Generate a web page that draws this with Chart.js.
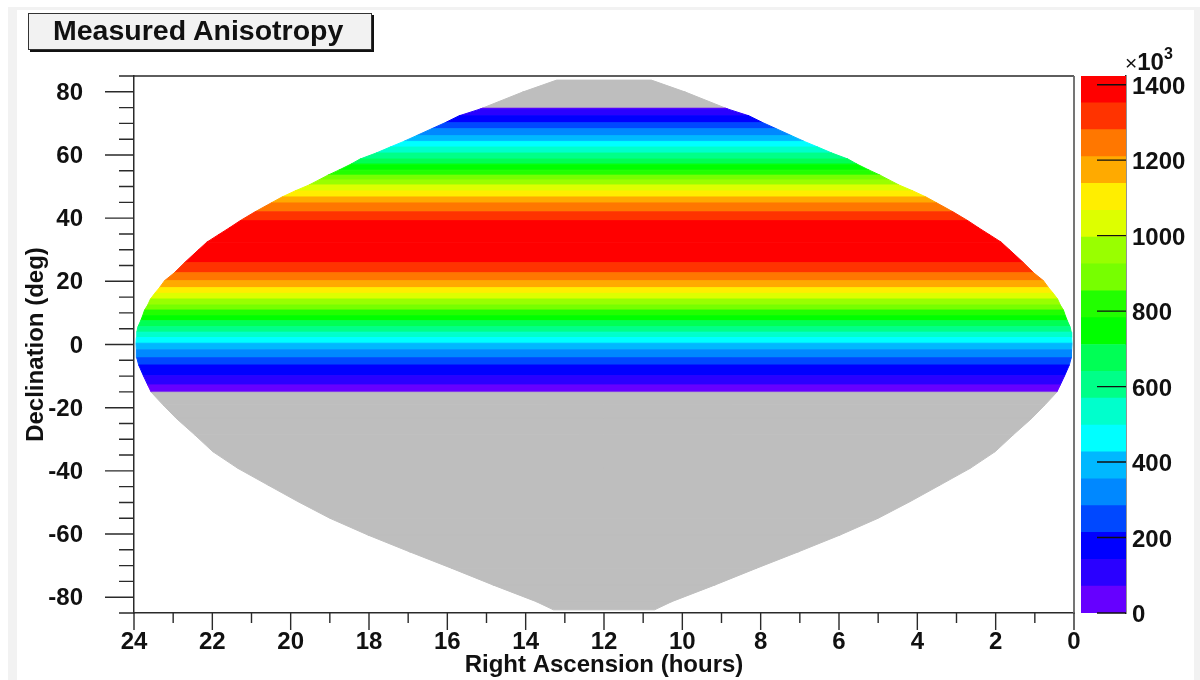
<!DOCTYPE html>
<html>
<head>
<meta charset="utf-8">
<title>Measured Anisotropy</title>
<script src="https://cdn.jsdelivr.net/npm/chart.js@4"></script>
<style>
  html, body { margin: 0; padding: 0; background: #fff; overflow: hidden; }
  #page { position: absolute; left: 8px; top: 7px; width: 1192px; height: 673px; background: #f2f2f2; }
  #inner { position: absolute; left: 17px; top: 10px; width: 1177px; height: 670px; background: #fff; }
  canvas { position: absolute; left: 0; top: 0; }
  #title {
    position: absolute; left: 28px; top: 13px; width: 342px; height: 35px;
    background: #f2f2f2; border: 1px solid #333; box-shadow: 2px 2px 0 #111;
    font: bold 28.5px "Liberation Sans", sans-serif; color: #111; line-height: 33px;
    text-indent: 24px; white-space: nowrap;
  }
  #exp { position: absolute; left: 1125px; top: 48px; font: bold 24px "Liberation Sans", sans-serif; color: #111; white-space: nowrap; }
  #exp .x { font-weight: normal; font-size: 21px; }
  #exp sup { font-size: 16px; position: relative; top: -2px; vertical-align: top; line-height: 1; }
</style>
</head>
<body>
<div id="page"></div>
<div id="inner"></div>
<canvas id="skyChart" width="1200" height="680"></canvas>
<canvas id="barChart" width="1200" height="680"></canvas>
<div id="title">Measured Anisotropy</div>
<div id="exp"><span class="x">×</span>10<sup>3</sup></div>

<script>
// palette levels, low to high (thousands of counts)
const levelColors = [
  '#6600ff', '#2a00ff', '#0000ff', '#0048ff', '#0088ff', '#00b8ff', '#00ffff', '#00ffcc', '#00ff88', '#00ff55',
  '#00ff00', '#22ff00', '#77ff00', '#99ff00', '#ddff00', '#ffee00', '#ffaa00', '#ff7700', '#ff3300', '#ff0000'
];
const noDataColor = '#bebebe';
const levelStep = 71.15;
const zTicks = [0, 200, 400, 600, 800, 1000, 1200, 1400];

// sky outline: declination (deg) and half width in RA (hours)
const decEdges = [
  -84.0, -81.4, -76.1, -70.8, -65.6, -60.3, -55.0, -49.7, -44.5, -39.2, -33.9, -28.6, -23.4, -19.1, -15.1,
  -12.8, -9.9, -6.5, -4.2, -1.7, 0.4, 2.2, 3.9, 5.6, 7.5, 9.1, 10.9, 12.5, 14.4, 16.2, 18.0, 20.2, 22.7, 25.9,
  29.9, 32.4, 34.7, 36.9, 39.2, 42.0, 44.8, 46.7, 48.6, 50.5, 52.1, 53.6, 55.2, 57.1, 58.7, 60.6, 62.5, 64.3, 66.1, 68.3,
  70.2, 72.4, 74.5, 74.8, 79.9, 83.7
];
const halfWidth = [
  1.29, 1.73, 2.84, 3.90, 4.97, 6.03, 7.00, 7.82, 8.58, 9.35, 9.99, 10.45, 10.92, 11.26, 11.56,
  11.65, 11.76, 11.88, 11.93, 11.94, 11.95, 11.94, 11.93, 11.90, 11.83, 11.78, 11.73, 11.65, 11.58, 11.47, 11.35, 11.22, 10.97, 10.71,
  10.36, 10.14, 9.85, 9.57, 9.29, 8.91, 8.50, 8.22, 7.89, 7.53, 7.28, 7.05, 6.77, 6.46, 6.23, 5.82, 5.46, 5.11, 4.79, 4.40,
  4.06, 3.70, 3.17, 3.11, 2.08, 1.21
];
// level of the strip between two neighbouring edges, -1 = no data
const stripLevel = [
  -1, -1, -1, -1, -1, -1, -1, -1, -1, -1, -1, -1, -1, -1,
  0, 1, 2, 3, 4, 5, 6, 7, 8, 9, 10, 11, 12, 13, 14, 15, 16, 17, 18, 19,
  19, 19, 19, 19, 18, 17, 16, 15, 14, 13, 12, 11, 10, 9, 8, 7, 6, 5, 4, 3, 2, 1, 0,
  -1, -1
];

const centerRA = 12;
const labelFont = { family: '"Liberation Sans", sans-serif', weight: 'bold', size: 24 };
const lineColor = '#2a2a2a';

const skyDatasets = stripLevel.map((level, i) => {
  const color = level < 0 ? noDataColor : levelColors[level];
  return {
    data: [
      { x: centerRA - halfWidth[i], y: decEdges[i] },
      { x: centerRA + halfWidth[i], y: decEdges[i] },
      { x: centerRA + halfWidth[i + 1], y: decEdges[i + 1] },
      { x: centerRA - halfWidth[i + 1], y: decEdges[i + 1] },
      { x: centerRA - halfWidth[i], y: decEdges[i] }
    ],
    showLine: true,
    fill: 'shape',
    backgroundColor: color,
    borderColor: color,
    borderWidth: 1,
    tension: 0,
    pointRadius: 0
  };
});

// nudge the y labels down a little, ROOT sets them lower than middle
function labelNudge(dy) {
  return {
    id: 'labelNudge',
    beforeDraw(chart) {
      chart.scales.y.getLabelItems().forEach(item => { item.options.translation[1] += dy; });
    }
  };
}

// ROOT style ticks, chart.js can't do two tick lengths on one axis
const skyTicks = {
  id: 'skyTicks',
  afterDraw(chart) {
    const { ctx, chartArea: a, scales } = chart;
    ctx.save();
    ctx.strokeStyle = lineColor;
    ctx.lineWidth = 1.4;
    ctx.beginPath();
    scales.y.ticks.forEach(t => {
      const p = scales.y.getPixelForValue(t.value);
      ctx.moveTo(a.left - (t.value % 20 === 0 ? 29 : 15), p);
      ctx.lineTo(a.left, p);
    });
    scales.x.ticks.forEach(t => {
      const p = scales.x.getPixelForValue(t.value);
      ctx.moveTo(p, a.bottom);
      ctx.lineTo(p, a.bottom + (t.value % 2 === 0 ? 17 : 10));
    });
    ctx.moveTo(a.left, a.top);
    ctx.lineTo(a.right, a.top);
    ctx.stroke();
    ctx.strokeStyle = '#666';
    ctx.lineWidth = 1.8;
    ctx.beginPath();
    ctx.moveTo(a.right, a.top);
    ctx.lineTo(a.right, a.bottom);
    ctx.stroke();
    ctx.restore();
  }
};

new Chart(document.getElementById('skyChart'), {
  type: 'scatter',
  data: { datasets: skyDatasets },
  plugins: [skyTicks, labelNudge(1.5)],
  options: {
    responsive: false,
    animation: false,
    layout: { padding: { top: 76, right: 126 } },
    plugins: { legend: { display: false }, tooltip: { enabled: false } },
    scales: {
      x: {
        type: 'linear', reverse: true, min: 0, max: 24,
        afterFit: s => { s.height = 67; },
        grid: { display: false, drawTicks: false },
        border: { display: true, color: lineColor, width: 1.5 },
        ticks: {
          stepSize: 1, autoSkip: false, maxRotation: 0, padding: 15,
          color: '#111', font: labelFont,
          callback: v => (v % 2 === 0 ? String(v) : '')
        },
        title: {
          display: true, text: 'Right Ascension (hours)', color: '#111',
          font: labelFont, padding: { top: 0, bottom: 0 }
        }
      },
      y: {
        type: 'linear', min: -85, max: 85,
        afterFit: s => { s.width = 134; },
        grid: { display: false, drawTicks: false },
        border: { display: true, color: lineColor, width: 1.5 },
        ticks: {
          stepSize: 5, autoSkip: false, padding: 51,
          color: '#111', font: labelFont,
          callback: v => (v % 20 === 0 ? String(v) : '')
        },
        title: {
          display: true, text: 'Declination (deg)', color: '#111',
          font: labelFont, padding: { top: 22, bottom: 0 }
        }
      }
    }
  }
});

const barTicks = {
  id: 'barTicks',
  afterDraw(chart) {
    const { ctx, chartArea: a, scales } = chart;
    ctx.save();
    ctx.strokeStyle = '#111';
    ctx.lineWidth = 1.4;
    ctx.beginPath();
    scales.y.ticks.forEach(t => {
      const p = scales.y.getPixelForValue(t.value);
      ctx.moveTo(a.right - 29, p);
      ctx.lineTo(a.right, p);
    });
    ctx.stroke();
    ctx.restore();
  }
};

new Chart(document.getElementById('barChart'), {
  type: 'bar',
  data: {
    labels: ['z'],
    datasets: levelColors.map(c => ({
      data: [levelStep],
      backgroundColor: c,
      barPercentage: 1,
      categoryPercentage: 1
    }))
  },
  plugins: [barTicks, labelNudge(2.5)],
  options: {
    responsive: false,
    animation: false,
    layout: { padding: { top: 76, left: 1081, bottom: 67 } },
    plugins: { legend: { display: false }, tooltip: { enabled: false } },
    scales: {
      x: { stacked: true, display: false },
      y: {
        stacked: true, position: 'right', min: 0, max: levelStep * levelColors.length,
        afterFit: s => { s.width = 74; },
        afterBuildTicks: s => { s.ticks = zTicks.map(v => ({ value: v })); },
        grid: { display: false, drawTicks: false },
        border: { display: true, color: lineColor, width: 1.5 },
        ticks: { padding: 6, color: '#111', font: labelFont, callback: v => String(v) }
      }
    }
  }
});
</script>
</body>
</html>
